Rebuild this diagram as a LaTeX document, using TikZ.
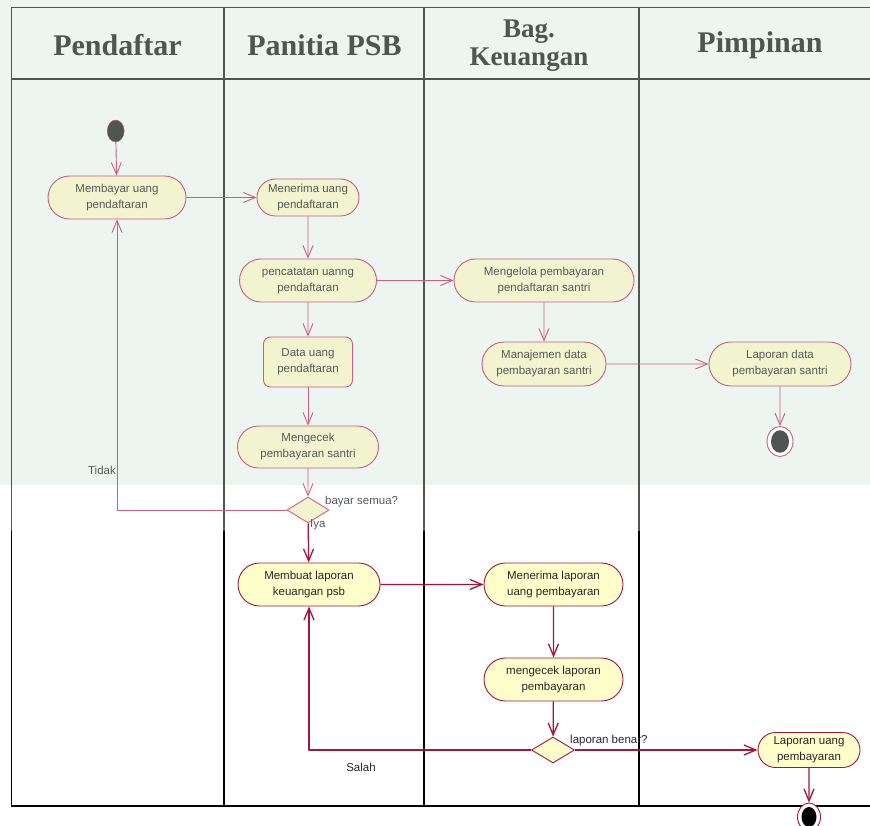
\documentclass[tikz,border=0pt]{standalone}
\usepackage{fontspec}
\setmainfont{Liberation Serif}
\setsansfont{Liberation Sans}
\usetikzlibrary{shapes.geometric,shapes.misc,arrows.meta}
\definecolor{garisA}{HTML}{CC5C86}
\definecolor{garisB}{HTML}{A3153F}
\definecolor{isiA}{HTML}{F2F4CF}
\definecolor{isiB}{HTML}{FFFFCC}
\definecolor{latar}{HTML}{ECF5F0}
\definecolor{teksA}{HTML}{555A56}
\definecolor{lajurA}{HTML}{4F5550}
\tikzset{
  judul/.style={align=center,text=lajurA,font=\rmfamily\bfseries\fontsize{30}{30}\selectfont},
  judulkecil/.style={judul,font=\rmfamily\bfseries\fontsize{27}{28}\selectfont},
  aksi/.style={rounded rectangle,draw=garisA,fill=isiA,text=teksA,align=center,inner sep=1pt,line width=0.9pt},
  aksiB/.style={aksi,draw=garisB,fill=isiB,text=black!85},
  data/.style={rectangle,rounded corners=7pt,draw=garisA,fill=isiA,text=teksA,align=center,inner sep=1pt,line width=0.9pt},
  putus/.style={diamond,draw=garisA,fill=isiA,inner sep=0pt,minimum width=42pt,minimum height=26pt,line width=0.9pt},
  putusB/.style={putus,draw=garisB,fill=isiB},
  mulai/.style={ellipse,draw=garisA,fill=lajurA,inner sep=0pt,minimum width=17pt,minimum height=22pt},
  akhir/.style={ellipse,draw=garisA,fill=white,inner sep=0pt,line width=0.9pt},
  alur/.style={->,draw=garisA,line width=0.9pt},
  alurB/.style={->,draw=garisB,line width=1.3pt},
  ket/.style={text=teksA,inner sep=0pt}
}
\begin{document}
\begin{tikzpicture}[x=1pt,y=-1pt,line join=round,>={Straight Barb[length=12pt,width=10pt]},font=\sffamily\fontsize{11.5}{16}\selectfont]
\useasboundingbox (0,0) rectangle (870,826);
%%Latar
\fill[latar] (0,0) rectangle (870,485);
%%Lajur
\draw[lajurA,line width=1.5pt] (11.5,7.5)--(870,7.5) (11.5,79)--(870,79);
\foreach \x in {11.5,224,424,639}{
  \draw[lajurA,line width=1.5pt] (\x,7.5)--(\x,531);
  \draw[black,line width=1.4pt] (\x,531)--(\x,806);
}
\draw[black,line width=2.5pt] (10.5,806)--(870,806);
%%Judul
\foreach \t/\x/\n in {Pendaftar/117.5/h1,Panitia PSB/324.5/h2,Pimpinan/760/h4}{
  \node[judul] (\n) at (\x,45) {\t};
}
\node[judulkecil] (h3) at (529,46) {Bag.\\Keuangan};
%%Aksi atas
\node[mulai] (awal) at (115.7,131) {};
\node[aksi,minimum width=140pt,minimum height=43pt] (bayar) at (117,197.5) {Membayar uang\\pendaftaran};
\node[aksi,minimum width=104pt,minimum height=37pt] (terima) at (308,197.5) {Menerima uang\\pendaftaran};
\node[aksi,minimum width=139pt,minimum height=43pt] (catat) at (308,280.5) {pencatatan uanng\\pendaftaran};
\node[data,minimum width=89pt,minimum height=50pt] (datauang) at (308,362) {Data uang\\pendaftaran};
\node[aksi,minimum width=143pt,minimum height=42pt] (cekbayar) at (308,447) {Mengecek\\pembayaran santri};
\node[putus] (semua) at (308,510) {};
\node[aksi,minimum width=182pt,minimum height=43pt] (kelola) at (544,280.5) {Mengelola pembayaran\\pendaftaran santri};
\node[aksi,minimum width=126pt,minimum height=44pt] (manajemen) at (544,364) {Manajemen data\\pembayaran santri};
\node[aksi,minimum width=144pt,minimum height=44pt] (lapdata) at (780,364) {Laporan data\\pembayaran santri};
\node[akhir,minimum width=26pt,minimum height=30pt] (selesai) at (780,441.5) {};
\fill[lajurA] (selesai.center) ellipse (9pt and 11.3pt);
%%Aksi bawah
\node[aksiB,minimum width=144pt,minimum height=43pt] (buat) at (309,584.5) {Membuat laporan\\keuangan psb};
\node[aksiB,minimum width=141pt,minimum height=43pt] (terimalap) at (553.5,584.5) {Menerima laporan\\uang pembayaran};
\node[aksiB,minimum width=141pt,minimum height=43pt] (ceklap) at (553.5,679.5) {mengecek laporan\\pembayaran};
\node[putusB,minimum width=43pt,minimum height=26pt] (benar) at (553,750) {};
\node[aksiB,minimum width=104pt,minimum height=35pt] (lapuang) at (809,750) {Laporan uang\\pembayaran};
\node[akhir,draw=garisB,minimum width=23pt,minimum height=28pt] (selesaiB) at (809,817) {};
\fill[black] (selesaiB.center) ellipse (7.5pt and 10pt);
%%Alur
\draw[alur] (awal)--(bayar);
\draw[alur] (bayar)--(terima);
\draw[alur] (terima)--(catat);
\draw[alur] (catat)--(kelola);
\draw[alur] (catat)--(datauang);
\draw[alur] (datauang)--(cekbayar);
\draw[alur] (cekbayar)--(semua);
\draw[alur] (semua.west)-|(bayar.south);
\draw[alurB] (semua)--(buat);
\draw[alur] (kelola)--(manajemen);
\draw[alur] (manajemen)--(lapdata);
\draw[alur] (lapdata)--(selesai);
\draw[alurB] (buat)--(terimalap);
\draw[alurB] (terimalap)--(ceklap);
\draw[alurB] (ceklap)--(benar);
\draw[alurB] (benar)--(lapuang);
\draw[alurB] (benar.west)-|(buat.south);
\draw[alurB] (lapuang)--(selesaiB);
%%Keterangan
\node[ket,anchor=east] (tidak) at (116,470.5) {Tidak};
\node[ket,anchor=west] (tanya1) at (325,502) {bayar semua?};
\node[ket,anchor=west] (iya) at (310,525) {Iya};
\node[ket,text=black!85,anchor=west] (tanya2) at (570,741) {laporan benar?};
\node[ket,text=black!85] (salah) at (361,767) {Salah};
\end{tikzpicture}
\end{document}
